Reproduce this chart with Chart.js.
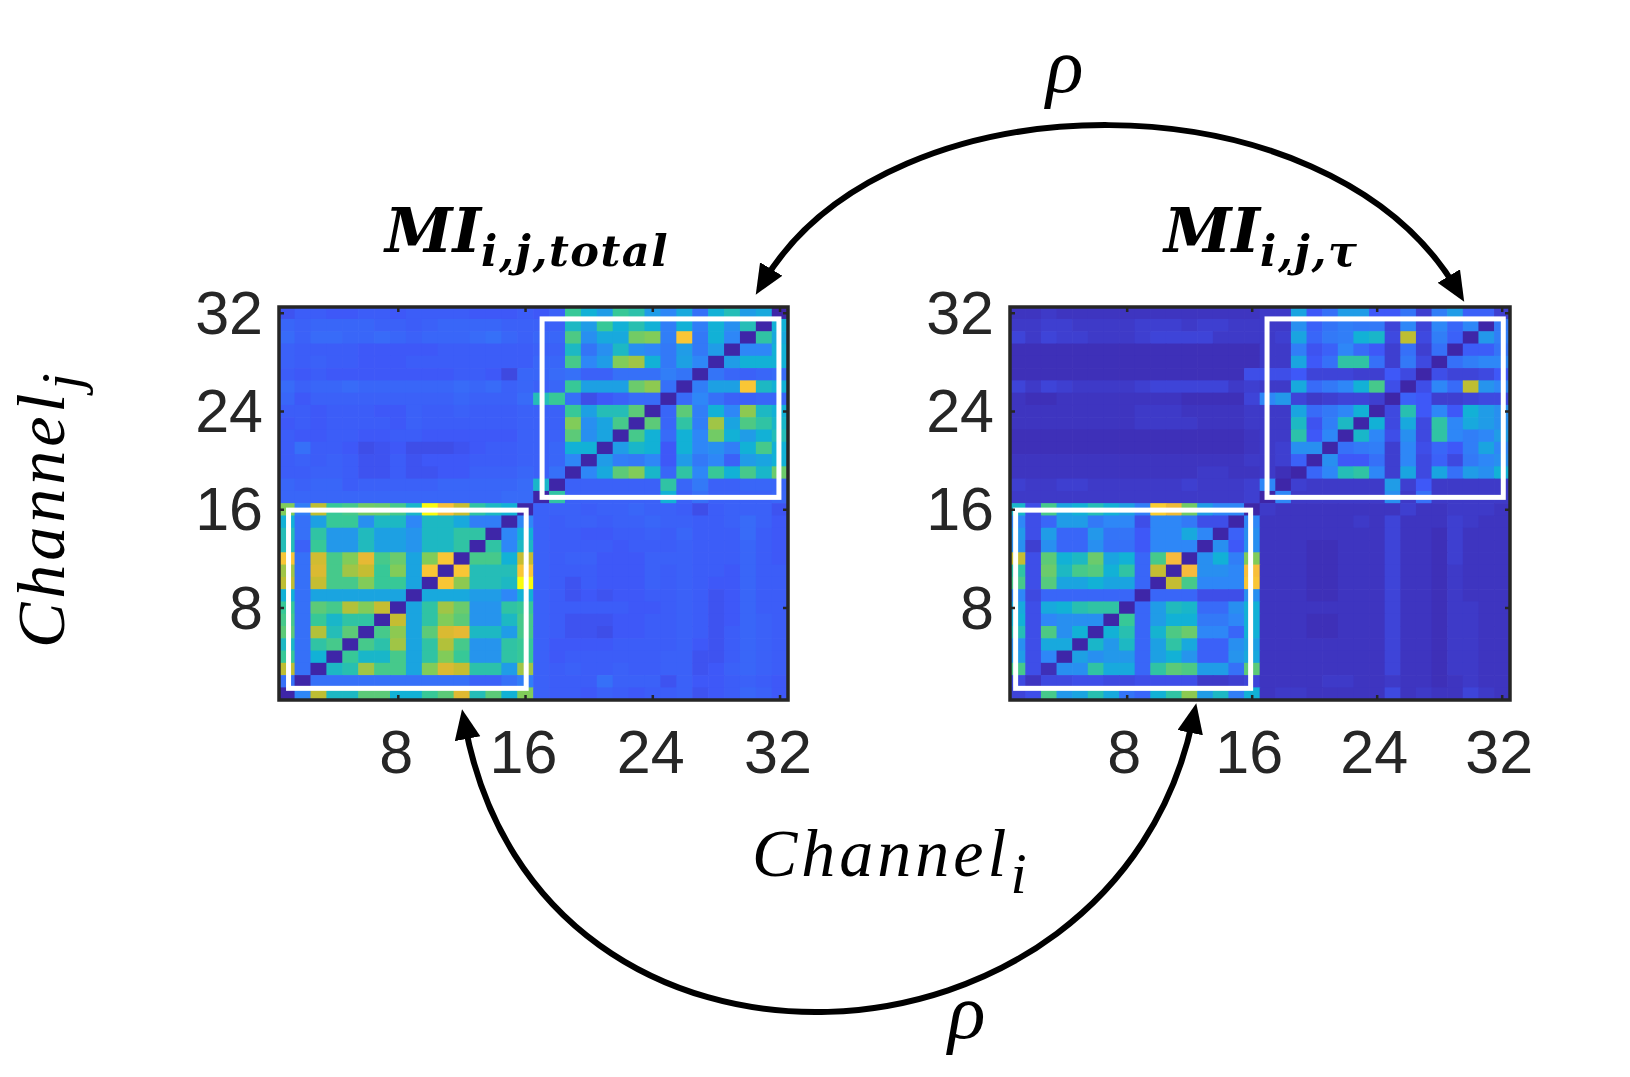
<!DOCTYPE html>
<html>
<head>
<meta charset="utf-8">
<title>MI matrices</title>
<script src="https://cdn.jsdelivr.net/npm/chart.js@4"></script>
<style>
html,body{margin:0;padding:0;background:#fff;width:1630px;height:1077px;overflow:hidden;}
canvas{position:absolute;}
svg{position:absolute;left:0;top:0;}
text{font-family:"Liberation Serif",serif;font-style:italic;fill:#000;}
text.title{font-family:"DejaVu Serif",serif;font-weight:bold;}
</style>
</head>
<body>
<canvas id="chart_total"></canvas>
<canvas id="chart_tau"></canvas>
<svg width="1630" height="1077" xmlns="http://www.w3.org/2000/svg">
  <defs>
    <marker id="head" markerWidth="32" markerHeight="30" refX="14" refY="13" orient="auto-start-reverse" markerUnits="userSpaceOnUse">
      <path d="M0,0 L30,13 L0,26 Z" fill="#000"/>
    </marker>
  </defs>
  <path d="M764,281 C890,72 1327,72 1456,288" fill="none" stroke="#000" stroke-width="6" marker-start="url(#head)" marker-end="url(#head)"/>
  <path d="M465,725 C540,1125 1115,1092 1193,719" fill="none" stroke="#000" stroke-width="6" marker-start="url(#head)" marker-end="url(#head)"/>
  <text x="1046" y="92" font-size="78">ρ</text>
  <text x="948" y="1038" font-size="78">ρ</text>
  <text class="title" x="385" y="252" font-size="61">MI<tspan font-size="43" dy="14" letter-spacing="1.5">i,j,total</tspan></text>
  <text class="title" x="1164" y="252" font-size="61">MI<tspan font-size="43" dy="14" letter-spacing="1.5">i,j,τ</tspan></text>
  <text x="752" y="876" font-size="68" letter-spacing="4">Channel<tspan font-size="58" dy="17">i</tspan></text>
  <text transform="translate(64,648) rotate(-90)" font-size="68" letter-spacing="4">Channel<tspan font-size="58" dy="17">j</tspan></text>
</svg>
<script>
// channel numbers and axis ticks
var channels = [];
for(var n = 1; n <= 32; n++){ channels.push(n); }
var tickLabels = [8, 16, 24, 32];

// MI x100, rows go from channel 1 (bottom) up to channel 32
var miTotal = [
[0,20,60,33,33,45,45,30,30,40,45,70,35,45,30,50, 12,11,11,10,12,11,10,11,11,12,9,10,11,13,12,10],
[15,0,15,15,15,15,15,15,15,15,15,15,12,12,15,18, 12,11,11,11,15,12,12,12,9,12,10,10,11,12,11,10],
[60,15,0,33,36,55,42,42,27,50,68,62,37,37,25,55, 12,11,12,11,11,12,11,11,12,12,9,10,12,13,12,11],
[40,15,30,0,40,32,32,42,27,38,50,40,23,23,38,40, 12,10,11,11,11,11,11,11,12,12,9,9,11,13,12,11],
[33,15,38,42,0,42,37,55,27,38,58,42,23,23,38,40, 12,10,10,10,10,11,11,11,11,12,10,9,11,13,12,11],
[45,15,58,35,45,0,42,52,27,45,68,72,33,33,25,42, 12,11,9,9,8,10,10,11,11,12,11,9,11,13,12,11],
[42,15,40,32,38,38,0,62,27,38,50,45,23,23,33,42, 12,11,9,9,9,10,10,11,11,12,11,9,10,13,12,11],
[40,15,45,42,58,50,62,0,27,38,55,47,23,23,38,40, 12,11,11,11,11,11,10,10,11,12,11,9,10,13,11,11],
[30,15,27,27,27,27,27,27,0,28,28,28,25,25,20,30, 12,11,9,10,9,10,10,11,11,12,11,9,10,13,11,11],
[60,15,62,42,42,50,40,40,27,0,85,52,35,35,33,100, 12,11,9,11,10,10,10,12,11,12,11,10,10,13,11,11],
[55,15,68,42,55,62,40,50,27,85,0,85,35,35,35,85, 12,11,11,11,10,10,10,12,11,12,11,11,10,13,11,11],
[85,15,65,42,50,72,42,47,27,50,85,0,42,42,30,62, 12,11,12,12,10,10,10,12,12,12,11,11,11,13,11,10],
[35,12,40,24,24,34,26,26,23,33,33,38,0,38,20,33, 12,11,11,11,11,10,11,11,11,12,11,11,11,13,11,10],
[35,15,38,24,24,34,26,26,23,33,33,38,38,0,20,30, 12,11,11,10,10,11,11,12,11,13,11,11,11,14,11,10],
[30,15,26,40,40,22,33,33,20,33,33,28,18,18,0,20, 12,11,12,12,11,12,12,13,12,12,11,11,12,14,12,10],
[50,18,60,40,42,48,47,42,32,100,82,62,38,33,30,0, 12,12,12,11,12,12,13,12,12,11,8,11,12,12,12,9],
[13,13,13,13,13,13,13,13,13,13,13,13,13,13,14,14, 0,38,12,12,12,12,12,12,30,12,15,12,12,12,12,13],
[13,12,13,13,11,12,12,12,12,12,13,13,13,13,13,14, 32,0,12,12,12,12,12,12,38,13,17,12,12,13,13,13],
[11,11,12,12,11,9,9,11,9,9,10,10,12,12,12,13, 12,15,0,20,28,45,50,32,13,38,20,40,30,42,32,47],
[11,12,11,12,11,9,9,11,9,10,10,10,11,11,11,12, 12,13,20,0,25,18,17,20,10,25,17,20,12,25,27,30],
[11,15,11,11,10,8,9,10,8,8,8,9,10,11,11,12, 12,13,30,30,0,25,32,30,10,30,20,22,18,30,42,30],
[11,10,10,11,11,10,10,11,11,10,10,10,10,10,10,12, 12,12,45,22,27,0,42,30,14,30,20,48,30,25,30,35],
[10,11,10,11,11,11,11,10,12,11,11,11,11,11,11,12, 12,12,50,22,27,42,0,45,13,38,18,55,27,43,38,32],
[11,11,10,11,11,11,10,10,12,11,11,12,11,11,11,12, 12,12,40,26,35,35,45,0,13,45,18,30,20,52,33,30],
[13,10,12,12,12,12,12,12,12,12,12,13,12,12,12,14, 35,40,15,8,10,12,14,14,0,14,20,15,12,12,13,13],
[14,12,13,13,14,13,13,13,13,13,13,14,13,14,12,13, 12,13,40,26,26,26,47,52,15,0,18,26,26,85,33,30],
[11,10,11,10,10,10,10,10,10,10,10,11,11,10,7,13, 13,14,15,12,12,15,15,15,18,16,0,16,13,12,13,14],
[12,11,12,11,11,10,10,10,11,11,11,11,11,11,11,11, 13,13,42,20,25,50,55,30,17,26,20,0,25,30,30,30],
[12,11,11,11,11,10,10,10,10,10,11,11,11,11,11,11, 12,12,33,16,22,33,22,20,17,25,17,25,0,20,20,30],
[14,12,14,14,13,13,14,13,12,13,13,13,14,15,13,12, 13,13,43,22,28,28,48,50,18,85,17,30,20,0,38,28],
[13,12,13,13,13,13,12,12,11,12,13,13,13,13,12,12, 12,12,33,25,40,30,36,30,18,30,18,30,22,35,0,30],
[9,11,11,10,10,11,11,10,11,11,11,11,10,10,10,11, 10,12,40,30,25,40,37,25,20,28,15,30,35,25,28,0]
];

var miTau = [
[6,8,42,24,27,36,28,16,13,30,38,52,25,33,18,30, 3,4,4,3,3,3,3,3,7,3,4,3,3,6,4,3],
[7,3,7,7,8,8,7,7,8,8,8,8,4,4,5,6, 3,3,3,3,4,4,3,3,4,3,3,2,3,4,3,3],
[42,8,2,22,22,38,28,28,13,38,45,43,25,25,15,45, 3,3,3,3,3,3,3,3,6,3,3,2,4,4,3,3],
[25,8,20,0,26,22,24,24,13,26,30,23,12,12,23,28, 3,3,3,3,3,3,3,3,6,3,3,2,4,4,3,3],
[22,8,28,28,0,32,24,33,13,26,38,28,12,12,22,26, 3,3,3,3,3,3,3,3,6,3,3,2,4,4,3,3],
[35,8,43,22,30,0,30,36,13,31,43,47,20,20,13,30, 3,3,3,2,2,3,3,3,6,3,3,2,4,4,3,3],
[30,8,20,22,22,22,0,40,13,25,30,30,17,17,20,30, 3,3,3,2,2,3,3,3,6,3,3,2,4,4,3,3],
[28,8,28,30,36,38,38,0,13,25,34,32,14,14,22,30, 3,3,3,3,3,3,3,3,6,3,3,2,4,4,3,3],
[20,7,13,13,13,13,13,13,0,13,13,13,8,8,8,22, 3,3,3,2,2,3,3,3,6,3,3,2,4,3,3,3],
[42,8,44,27,27,30,27,27,13,0,62,42,20,20,20,85, 3,3,3,2,2,3,3,3,6,3,3,2,4,3,3,3],
[38,8,47,33,42,44,30,38,13,62,0,80,22,22,20,82, 3,3,3,2,2,3,3,3,6,3,3,2,4,3,3,3],
[62,8,45,30,33,47,27,30,13,42,80,0,22,30,18,50, 3,3,3,2,2,3,3,3,6,3,3,2,5,3,3,3],
[22,5,22,13,13,22,15,15,10,20,20,20,0,22,10,22, 3,3,3,2,2,3,3,3,6,3,3,2,5,3,3,3],
[24,8,25,13,13,24,16,16,10,20,20,28,20,0,12,22, 3,3,3,3,3,3,3,3,6,3,3,2,5,3,3,3],
[20,8,13,25,25,17,20,20,8,20,20,17,8,8,0,20, 3,3,3,3,3,3,4,3,6,3,3,3,5,4,3,3],
[32,8,42,27,30,35,30,26,18,88,75,48,25,20,20,0, 4,3,3,3,3,3,3,3,3,5,3,3,4,4,4,3],
[4,4,4,4,4,4,4,4,4,4,4,4,4,4,4,5, 0,20,4,4,4,4,4,4,22,4,15,4,4,4,4,4],
[5,4,4,5,5,4,4,4,4,4,4,5,4,4,4,5, 20,0,5,4,4,4,4,4,25,5,10,4,4,4,4,4],
[3,3,3,3,3,3,3,3,3,3,3,3,4,4,3,3, 4,2,0,13,20,35,38,20,5,27,7,27,15,25,22,30],
[3,3,3,3,3,3,3,3,3,3,3,3,3,3,3,4, 4,5,12,0,22,10,10,15,5,20,7,12,7,17,20,22],
[2,2,2,2,2,2,2,2,2,2,2,2,2,2,2,3, 4,5,22,22,0,15,17,18,5,20,8,13,10,18,27,20],
[2,2,2,2,2,2,2,2,2,2,2,2,2,2,2,3, 4,4,37,10,20,0,32,20,8,22,7,38,20,18,20,25],
[3,3,3,3,3,3,3,3,4,4,4,4,3,3,3,4, 4,4,33,9,18,33,0,30,7,28,7,38,20,28,25,22],
[3,3,3,3,3,3,3,3,4,4,4,3,3,3,3,4, 4,4,27,14,17,20,30,0,7,36,10,20,10,30,25,22],
[3,2,2,3,3,3,3,3,3,3,3,2,2,2,2,6, 20,24,6,4,5,6,6,5,0,12,10,5,5,6,7,7],
[6,4,6,5,4,4,4,4,5,6,6,6,6,6,4,5, 4,4,28,14,17,20,30,42,8,0,8,20,14,60,23,20],
[2,2,2,2,2,2,2,2,2,2,2,2,2,2,2,8, 8,8,10,6,6,6,5,5,10,7,0,8,6,6,7,10],
[2,2,2,2,2,2,2,2,2,2,2,2,2,2,2,2, 4,4,27,10,15,38,38,15,5,17,7,0,15,18,20,20],
[2,2,2,2,2,2,2,2,2,2,2,2,2,2,2,2, 4,4,18,9,12,20,14,10,5,15,5,15,0,11,11,16],
[6,4,6,5,5,4,4,4,5,6,6,6,6,4,4,4, 4,5,27,13,17,18,30,32,7,60,7,18,12,0,24,18],
[4,4,5,5,4,4,4,4,5,5,5,4,5,5,4,4, 4,4,22,12,16,18,17,17,6,20,6,20,13,20,0,17],
[3,3,4,3,3,3,3,3,3,3,3,3,3,3,3,3, 4,4,27,10,15,25,25,10,10,16,5,18,25,12,12,5]
];

// white boxes around the two channel groups, [x0, x1, y0, y1] in channel units
var totalBoxes = [[1.1, 16.04, 1.45, 15.96], [17.04, 31.93, 17, 31.53]];
var tauBoxes = [[0.86, 15.9, 1.45, 15.96], [16.95, 32.07, 17, 31.53]];

// matlab parula stops
var parula = [[62,38,168],[62,88,248],[46,135,247],[18,177,214],[55,200,151],[129,204,89],[190,190,50],[225,185,50],[248,186,60],[250,210,45],[249,251,14]];

function value_color(v){
    var p = Math.max(0, Math.min(0.9999, v / 100)) * (parula.length - 1);
    var i = Math.floor(p);
    var f = p - i;
    var a = parula[i];
    var b = parula[i + 1];
    return 'rgb(' + Math.round(a[0] + (b[0] - a[0]) * f) + ',' + Math.round(a[1] + (b[1] - a[1]) * f) + ',' + Math.round(a[2] + (b[2] - a[2]) * f) + ')';
}

function draw_matrix(id, matrix, boxes, left, plotW, xLabelShift){
    var top = 307, plotH = 393, yAxisW = 100, xAxisH = 90, padTop = 30, padRight = 60;
    var canvas = document.getElementById(id);
    canvas.style.left = (left - yAxisW) + 'px';
    canvas.style.top = (top - padTop) + 'px';
    canvas.width = yAxisW + plotW + padRight;
    canvas.height = padTop + plotH + xAxisH;

    var datasets = [];
    for(var r = 0; r < matrix.length; r++){
        var row = [];
        var colors = [];
        for(var c = 0; c < matrix[r].length; c++){
            row.push([r + 0.5, r + 1.5]);
            colors.push(value_color(matrix[r][c]));
        }
        datasets.push({
            data: row,
            backgroundColor: colors,
            borderWidth: 0,
            borderSkipped: false,
            grouped: false,
            barPercentage: 1,
            categoryPercentage: 1
        });
    }

    var frame = {
        id: 'frame',
        afterDatasetsDraw: function(chart){
            var ctx = chart.ctx;
            var a = chart.chartArea;
            var x = chart.scales.x;
            var y = chart.scales.y;
            ctx.save();
            ctx.strokeStyle = '#fff';
            ctx.lineWidth = 5;
            boxes.forEach(function(b){
                var x0 = x.getPixelForValue(b[0] - 1);
                var x1 = x.getPixelForValue(b[1] - 1);
                var y0 = y.getPixelForValue(b[2]);
                var y1 = y.getPixelForValue(b[3]);
                ctx.strokeRect(x0, y1, x1 - x0, y0 - y1);
            });
            ctx.strokeStyle = '#262626';
            ctx.lineWidth = 2.5;
            tickLabels.forEach(function(t){
                var px = x.getPixelForValue(t - 1);
                var py = y.getPixelForValue(t);
                ctx.beginPath();
                ctx.moveTo(px, a.bottom); ctx.lineTo(px, a.bottom - 5);
                ctx.moveTo(px, a.top); ctx.lineTo(px, a.top + 5);
                ctx.moveTo(a.left, py); ctx.lineTo(a.left + 5, py);
                ctx.moveTo(a.right, py); ctx.lineTo(a.right - 5, py);
                ctx.stroke();
            });
            ctx.lineWidth = 3.5;
            ctx.strokeRect(a.left, a.top, a.right - a.left, a.bottom - a.top);
            ctx.restore();
        }
    };

    return new Chart(canvas, {
        type: 'bar',
        data: { labels: channels, datasets: datasets },
        plugins: [frame],
        options: {
            responsive: false,
            animation: false,
            devicePixelRatio: 1,
            layout: { padding: { top: padTop, right: padRight, left: 0, bottom: 0 } },
            plugins: { legend: { display: false }, tooltip: { enabled: false } },
            scales: {
                x: {
                    grid: { display: false },
                    border: { display: false },
                    afterFit: function(scale){
                        scale.height = xAxisH;
                        scale.paddingLeft = 0;
                        scale.paddingRight = 0;
                    },
                    ticks: {
                        autoSkip: false,
                        maxRotation: 0,
                        padding: 12,
                        labelOffset: xLabelShift,
                        color: '#262626',
                        font: { family: 'Liberation Sans', size: 61 },
                        callback: function(v){
                            var label = this.getLabelForValue(v);
                            return tickLabels.indexOf(label) >= 0 ? String(label) : '';
                        }
                    }
                },
                y: {
                    min: 0.5,
                    max: 32.5,
                    grid: { display: false },
                    border: { display: false },
                    afterFit: function(scale){
                        scale.width = yAxisW;
                        scale.paddingTop = 0;
                        scale.paddingBottom = 0;
                    },
                    afterBuildTicks: function(scale){
                        scale.ticks = tickLabels.map(function(t){ return { value: t }; });
                    },
                    ticks: {
                        padding: 8,
                        labelOffset: 4,
                        color: '#262626',
                        font: { family: 'Liberation Sans', size: 61 }
                    }
                }
            }
        }
    });
}

draw_matrix('chart_total', miTotal, totalBoxes, 279, 509, -2);
draw_matrix('chart_tau', miTau, tauBoxes, 1010, 500, -3);
</script>
</body>
</html>
